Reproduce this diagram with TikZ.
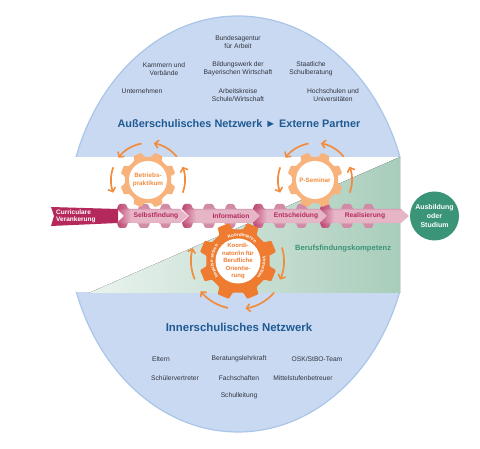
\documentclass[tikz,border=0pt]{standalone}
\usepackage{fontspec}
\setmainfont{Liberation Sans}
\usetikzlibrary{decorations.text,arrows.meta,calc,fadings}
\definecolor{blueF}{HTML}{C9D9F1}
\definecolor{blueE}{HTML}{A9C6E8}
\definecolor{titleC}{HTML}{1F5A93}
\definecolor{txt}{HTML}{30343F}
\definecolor{crim}{HTML}{B5285C}
\definecolor{pink}{HTML}{E6B6C7}
\definecolor{pinkD}{HTML}{D28BA7}
\definecolor{greenD}{HTML}{A9CDBB}
\definecolor{greenL}{HTML}{EAF3EE}
\definecolor{greenC}{HTML}{3A9478}
\definecolor{orangeD}{HTML}{EE7B30}
\definecolor{orangeL}{HTML}{F8B27C}
\definecolor{arrowC}{HTML}{F28C3E}
\newcommand{\gearshape}[5]{% cx,cy,Rout,Rin,offset
  ($(#1,#2)+(#5-13:#4)$)
  \foreach \k in {0,...,7}{
    -- ($(#1,#2)+(#5+\k*45-13:#4)$)
    -- ($(#1,#2)+(#5+\k*45-9:#3)$)
    -- ($(#1,#2)+(#5+\k*45+9:#3)$)
    -- ($(#1,#2)+(#5+\k*45+13:#4)$)
  } -- cycle}
\newcommand{\orbit}[5]{% cx,cy,r,a1,a2
  \draw[orbitarrow] ($(#1,#2)+(#4:#3)$) arc[start angle=#4,end angle=#5,radius=#3];}
\pgfdeclareverticalshading{bandshade}{100bp}{color(0bp)=(pinkD); color(33bp)=(pinkD); color(38bp)=(pink); color(62bp)=(pink); color(67bp)=(pinkD); color(100bp)=(pinkD)}
\tikzset{
  small/.style={font=\fontsize{6.7}{8}\selectfont,text=txt,align=center,inner sep=0pt},
  nettitle/.style={text=titleC,inner sep=0pt},
  steplabel/.style={font=\fontsize{6.7}{7}\selectfont\bfseries,text=crim,inner sep=0pt},
  orbitarrow/.style={draw=arrowC,line width=1.7pt,-{Straight Barb[length=3.6pt,width=8pt,line width=1.6pt]}},
  gearlabel/.style={font=\fontsize{6.3}{8.2}\selectfont\bfseries,text=arrowC,align=center,inner sep=0pt},
  gearfill/.style={rounded corners=1pt},
}
\newcommand{\chevpath}[2]{(#1,240) [rounded corners=1.2pt] -- ++(2,5) -- ++(7,0) -- ++(2,-5) [sharp corners] -- ({#1+21},240) [rounded corners=1.2pt] -- ++(2,5) -- ++(8,0) -- ++(2,-5) [sharp corners] -- ({#1+43},240)
     [rounded corners=1.2pt] -- ++(2,5) -- ++(7,0) -- ++(2,-5) [sharp corners] -- ({#2-8},240) -- (#2,233) -- ({#2-8},226)
     -- ({#1+54},226) [rounded corners=1.2pt] -- ++(-2,-5) -- ++(-7,0) -- ++(-2,5) [sharp corners] -- ({#1+33},226) [rounded corners=1.2pt] -- ++(-2,-5) -- ++(-8,0) -- ++(-2,5) [sharp corners] -- ({#1+11},226) [rounded corners=1.2pt] -- ++(-2,-5) -- ++(-7,0) -- ++(-2,5) [sharp corners] -- (#1,226) -- ({#1+7},233) -- cycle}
\newcommand{\chev}[2]{%
  \shade[shading=bandshade] \chevpath{#1}{#2};
  \begin{scope}
    \clip \chevpath{#1}{#2};
    \fill[crim,path fading=east,opacity=.7] (#1,218) rectangle ({#1+14},248);
  \end{scope}}
\begin{document}
\begin{tikzpicture}[x=1pt,y=1pt]
\useasboundingbox (0,0) rectangle (480,449);
% domes
\begin{scope}
\clip (0,292) rectangle (480,449);
\path[fill=blueF,draw=blueE,line width=1.2pt] (238,225) ellipse [x radius=171,y radius=208];
\end{scope}
\begin{scope}
\clip (0,0) rectangle (480,156);
\path[fill=blueF,draw=blueE,line width=1.2pt] (238,225) ellipse [x radius=171,y radius=208];
\end{scope}
% green wedge
\fill[left color=greenL,right color=greenD] (89,156) -- (400,292) -- (400,156) -- cycle;
% labels top
\node[small] (n1) at (238,407) {Bundesagentur\\für Arbeit};
\node[small] (n2) at (164,380) {Kammern und\\Verbände};
\node[small] (n3) at (238,380) {Bildungswerk der\\Bayerischen Wirtschaft};
\node[small] (n4) at (311,380) {Staatliche\\Schulberatung};
\node[small] (n5) at (142,358) {Unternehmen};
\node[small] (n6) at (238,354) {Arbeitskreise\\Schule/Wirtschaft};
\node[small] (n7) at (333,354) {Hochschulen und\\Universitäten};
\node[nettitle,font=\fontsize{10.9}{12}\selectfont\bfseries] (t1) at (239,325) {Außerschulisches Netzwerk ► Externe Partner};
\node[nettitle,font=\fontsize{11.4}{12}\selectfont\bfseries] (t2) at (239,122) {Innerschulisches Netzwerk};
\node[small] (m1) at (161,90) {Eltern};
\node[small] (m2) at (239,90) {Beratungslehrkraft};
\node[small] (m3) at (317,90) {OSK/StBO-Team};
\node[small] (m4) at (175,71) {Schülervertreter};
\node[small] (m5) at (239,71) {Fachschaften};
\node[small] (m6) at (303,71) {Mittelstufenbetreuer};
\node[small] (m7) at (239,53) {Schulleitung};
% band
\fill[crim] (51,242) -- (118,240) -- (118,226) -- (51,223) -- (54,233) -- cycle;
\chev{117}{188}
\chev{182}{262}
\chev{253}{329}
\chev{320}{409}
\node[font=\fontsize{6.5}{7.6}\selectfont\bfseries,text=white,align=left,anchor=west,inner sep=0pt] (cv) at (56,232.5) {Curriculare\\Verankerung};
\node[steplabel] (s1) at (156,233) {Selbstfindung};
\node[steplabel] (s2) at (231,233) {Information};
\node[steplabel] (s3) at (296,233) {Entscheidung};
\node[steplabel] (s4) at (365,233) {Realisierung};
\node[circle,fill=greenC,minimum size=49pt,inner sep=0pt,text=white,align=center,font=\fontsize{7}{8.6}\selectfont\bfseries] (goal) at (434.5,233) {Ausbildung\\oder\\Studium};
\node[font=\fontsize{7.6}{8}\selectfont\bfseries,text=greenC,anchor=west,inner sep=0pt] (bk) at (295,200) {Berufsfindungskompetenz};
% upper gears
\fill[orangeL,gearfill] \gearshape{148}{269}{28}{23.5}{22.5};
\fill[white] (148,269) circle (19);
\fill[orangeL,gearfill] \gearshape{315}{269}{28}{23.5}{22.5};
\fill[white] (315,269) circle (19);
\node[gearlabel] (g1) at (148,269) {Betriebs-\\praktikum};
\node[gearlabel] (g2) at (315,269) {P-Seminar};
\foreach \cx in {148,315}{
  \orbit{\cx}{269}{37}{39}{81}
  \orbit{\cx}{269}{37}{100}{143}
  \orbit{\cx}{269}{37}{160}{200}
  \orbit{\cx}{269}{37}{-20}{21}
}
% lower gear
\fill[orangeD,gearfill] \gearshape{238}{188}{39}{32}{22.5};
\fill[white] (238,188) circle (22.5);
\node[font=\fontsize{6}{7.5}\selectfont\bfseries,text=orangeD,align=center,inner sep=0pt] (g3) at (238,188) {Koordi-\\nator/in für\\Berufliche\\Orientie-\\rung};
\path[postaction={decorate,decoration={text along path,text align=center,text={|\fontsize{4.6}{5}\selectfont\bfseries\color{white}|Koordinieren}}}] (238,188) ++(135:24.8) arc[start angle=135,end angle=25,radius=24.8];
\path[postaction={decorate,decoration={text along path,text align=center,text={|\fontsize{4.6}{5}\selectfont\bfseries\color{white}|Vernetzen}}}] (238,188) ++(40:24.8) arc[start angle=40,end angle=-70,radius=24.8];
\path[postaction={decorate,decoration={text along path,text align=center,text={|\fontsize{4.6}{5}\selectfont\bfseries\color{white}|Impulse setzen}}}] (238,188) ++(-125:24.8) arc[start angle=-125,end angle=-235,radius=24.8];
\orbit{238}{188}{46}{17}{-24}
\orbit{238}{188}{48}{-41}{-81}
\orbit{238}{188}{48}{-102}{-141}
\orbit{238}{188}{47}{-157}{-196}
\end{tikzpicture}
\end{document}
